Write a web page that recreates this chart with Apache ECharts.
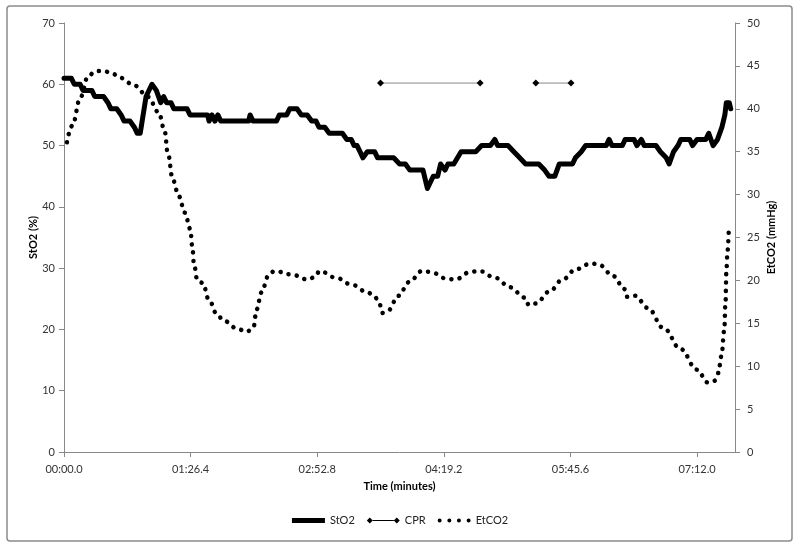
<!DOCTYPE html>
<html>
<head>
<meta charset="utf-8">
<script src="https://cdn.jsdelivr.net/npm/echarts@6/dist/echarts.min.js"></script>
<style>
  html, body { margin: 0; padding: 0; background: #fff; }
  #chart { width: 800px; height: 548px; }
</style>
</head>
<body>
<div id="chart"></div>
<script>
  // tick labels (seconds on the time axis, shown as mm:ss.s)
  const xTicks = [0, 86.4, 172.8, 259.2, 345.6, 432]
  const leftTicks = [0, 10, 20, 30, 40, 50, 60, 70]
  const rightTicks = [0, 5, 10, 15, 20, 25, 30, 35, 40, 45, 50]

  // StO2 (%), time in seconds
  const sto2Time = [0, 5, 7, 11, 13, 19, 21, 27, 30, 32, 36, 39, 41, 45, 48, 50, 52, 56, 60, 63, 66, 68, 70, 73, 75, 84, 86, 98, 99, 101, 103, 105, 107, 126, 127, 129, 145, 147, 152, 154, 159, 162, 166, 169, 172, 174, 178, 181, 190, 193, 196, 198, 200, 202, 204, 207, 212, 214, 225, 229, 233, 236, 245, 248, 252, 255, 257, 260, 262, 266, 271, 281, 285, 291, 294, 296, 303, 307, 311, 315, 324, 328, 331, 335, 338, 347, 349, 353, 356, 370, 372, 374, 381, 383, 389, 391, 394, 396, 404, 407, 411, 413, 416, 419, 421, 427, 429, 432, 438, 440, 443, 446, 449, 451, 452, 454, 455]
  const sto2Value = [61, 61, 60, 60, 59, 59, 58, 58, 57, 56, 56, 55, 54, 54, 53, 52, 52, 58, 60, 59, 57, 58, 57, 57, 56, 56, 55, 55, 54, 55, 54, 55, 54, 54, 55, 54, 54, 55, 55, 56, 56, 55, 55, 54, 54, 53, 53, 52, 52, 51, 51, 50, 50, 49, 48, 49, 49, 48, 48, 47, 47, 46, 46, 43, 45, 45, 47, 46, 47, 47, 49, 49, 50, 50, 51, 50, 50, 49, 48, 47, 47, 46, 45, 45, 47, 47, 48, 49, 50, 50, 51, 50, 50, 51, 51, 50, 51, 50, 50, 49, 48, 47, 49, 50, 51, 51, 50, 51, 51, 52, 50, 51, 53, 55, 57, 57, 56]

  // CPR periods (plotted on the EtCO2 axis), null = gap
  const cprTime = [216, 284, null, 322, 346]
  const cprValue = [43, 43, null, 43, 43]

  // EtCO2 (mmHg), time in seconds
  const etco2Time = [2, 5.5, 11.4, 16.4, 21.6, 27.3, 33, 38.5, 48.2, 57.3, 64.6, 68.5, 70.9, 74.3, 78.4, 82.5, 86.2, 87.6, 88.7, 91, 94.8, 98.7, 104.6, 108.9, 119.1, 124.8, 129.4, 131.4, 134.8, 139.4, 143.5, 155.1, 166.4, 171.4, 174.4, 185.8, 196.4, 207.3, 212.4, 215.5, 217.1, 221.2, 228.2, 235.5, 244.4, 250.1, 261.2, 266.9, 277.6, 283.5, 294.4, 304.4, 314.4, 317.4, 322.1, 331.2, 340.3, 349.4, 359.9, 365.3, 374.9, 382.4, 383.9, 389.9, 398.3, 409.4, 420.8, 431.9, 439.4, 443.9, 446.5, 448.7, 450.6, 451.4, 452.1, 452.8, 453.8]
  const etco2Value = [36.1, 38.0, 41.4, 43.8, 44.4, 44.4, 44.1, 43.6, 42.7, 41.4, 39.6, 37.6, 34.8, 31.7, 29.8, 27.9, 26.0, 23.9, 21.9, 20.0, 19.7, 17.8, 16.0, 15.3, 14.3, 14.0, 14.6, 16.6, 18.6, 20.5, 21.1, 20.7, 20.1, 20.4, 21.1, 20.3, 19.5, 18.6, 18.0, 17.2, 16.2, 16.5, 18.2, 19.8, 21.1, 21.0, 20.2, 20.1, 21.0, 21.1, 20.3, 19.2, 18.0, 17.1, 17.3, 18.7, 20.1, 21.3, 22.0, 21.8, 20.5, 19.0, 18.1, 18.2, 16.8, 14.4, 12.0, 9.6, 8.1, 8.3, 9.2, 11.2, 14.2, 17.3, 21.3, 23.4, 26.4]

  const FONT = 'Lato'

  function fmtTime(v) {
    let t = Math.round(v * 10) / 10
    let m = Math.floor(t / 60)
    let s = t - m * 60
    let ss = s.toFixed(1)
    if (s < 10) ss = '0' + ss
    return (m < 10 ? '0' + m : '' + m) + ':' + ss
  }

  // legend icons, drawn like the Excel legend keys
  const iconThick = 'path://M0,0.5H33V5.5H0Z'
  const iconCpr = 'path://M0,3L3,0L6,3L3,6Z M27,3L30,0L33,3L30,6Z M6,2.6H27V3.4H6Z'
  const iconDots = 'path://M0,3a2,2 0 1,0 4,0a2,2 0 1,0 -4,0Z M9.7,3a2,2 0 1,0 4,0a2,2 0 1,0 -4,0Z M19.3,3a2,2 0 1,0 4,0a2,2 0 1,0 -4,0Z M29,3a2,2 0 1,0 4,0a2,2 0 1,0 -4,0Z'

  const chart = echarts.init(document.getElementById('chart'))

  const axisLine = { show: true, lineStyle: { color: '#888', width: 1 } }
  const axisTick = { show: true, length: 5, lineStyle: { color: '#888' } }

  let option = {
    backgroundColor: '#fff',
    animation: false,
    textStyle: { fontFamily: FONT },
    grid: { left: 64, right: 65, top: 23, bottom: 96 },
    graphic: [{
      type: 'rect',
      shape: { x: 7, y: 6, width: 785, height: 535, r: 3 },
      style: { fill: 'none', stroke: '#8c8c8c', lineWidth: 1.5 },
      silent: true,
      z: -1
    }],
    legend: {
      bottom: 17,
      left: 'center',
      itemWidth: 33,
      itemHeight: 6,
      itemGap: 12,
      textStyle: { fontFamily: FONT, fontSize: 11, color: '#222' },
      data: [
        { name: 'StO2', icon: iconThick },
        { name: 'CPR', icon: iconCpr },
        { name: 'EtCO2', icon: iconDots }
      ]
    },
    xAxis: {
      type: 'value',
      min: 0,
      max: 457.92,
      interval: 86.4,
      name: 'Time (minutes)',
      nameLocation: 'middle',
      nameGap: 29,
      nameMoveOverlap: false,
      nameTextStyle: { fontFamily: FONT, fontSize: 11, fontWeight: 'bold', color: '#000' },
      axisLine: axisLine,
      axisTick: axisTick,
      splitLine: { show: false },
      axisLabel: {
        showMaxLabel: false,
        margin: 12,
        fontSize: 11,
        color: '#333',
        fontFamily: FONT,
        formatter: fmtTime
      }
    },
    yAxis: [{
      type: 'value',
      min: leftTicks[0],
      max: leftTicks[leftTicks.length - 1],
      interval: 10,
      name: 'StO2 (%)',
      nameLocation: 'middle',
      nameGap: 25,
      nameMoveOverlap: false,
      nameTextStyle: { fontFamily: FONT, fontSize: 11, fontWeight: 'bold', color: '#000' },
      axisLine: axisLine,
      axisTick: axisTick,
      splitLine: { show: false },
      axisLabel: { margin: 9, fontSize: 11, color: '#333', fontFamily: FONT }
    }, {
      type: 'value',
      position: 'right',
      min: rightTicks[0],
      max: rightTicks[rightTicks.length - 1],
      interval: 5,
      name: 'EtCO2 (mmHg)',
      nameLocation: 'middle',
      nameGap: 31,
      nameMoveOverlap: false,
      nameTextStyle: { fontFamily: FONT, fontSize: 11, fontWeight: 'bold', color: '#000' },
      axisLine: axisLine,
      axisTick: axisTick,
      splitLine: { show: false },
      axisLabel: { margin: 12, fontSize: 11, color: '#333', fontFamily: FONT }
    }],
    series: [
      {
        name: 'StO2',
        type: 'line',
        yAxisIndex: 0,
        symbol: 'none',
        data: sto2Time.map((t, i) => [t, sto2Value[i]]),
        itemStyle: { color: '#000' },
        lineStyle: { color: '#000', width: 5, join: 'round', cap: 'round' },
        z: 3
      },
      {
        name: 'CPR',
        type: 'line',
        yAxisIndex: 1,
        symbol: 'diamond',
        symbolSize: 7,
        showSymbol: true,
        data: cprTime.map((t, i) => t == null ? '-' : [t, cprValue[i]]),
        itemStyle: { color: '#000' },
        lineStyle: { color: '#888', width: 1 },
        z: 4
      },
      {
        name: 'EtCO2',
        type: 'line',
        yAxisIndex: 1,
        symbol: 'none',
        smooth: 0.4,
        smoothMonotone: 'x',
        data: etco2Time.map((t, i) => [t, etco2Value[i]]),
        itemStyle: { color: '#000' },
        lineStyle: { color: '#000', width: 4.5, type: [0.1, 8.2], cap: 'round' },
        z: 2
      }
    ]
  }
  option && chart.setOption(option)
</script>
</body>
</html>
